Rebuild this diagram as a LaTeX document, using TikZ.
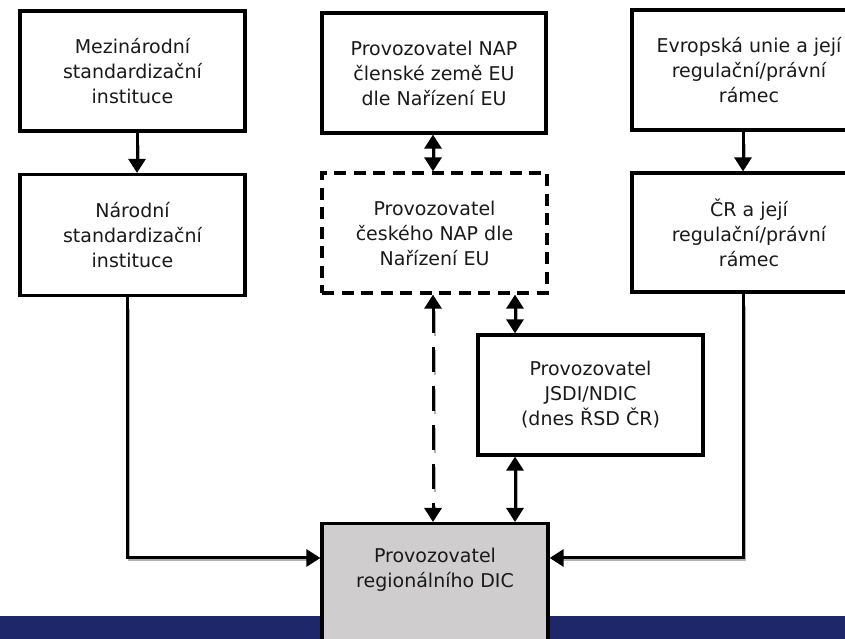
\documentclass[tikz,border=0pt]{standalone}
\usepackage{fontspec}
\setmainfont{DejaVu Sans}
\usetikzlibrary{arrows.meta}
\definecolor{barblue}{HTML}{1F276B}
\definecolor{boxgray}{HTML}{CFCDCE}
\definecolor{txt}{HTML}{1A1A1A}
\tikzset{
  x=1pt, y=1pt,
  box/.style={draw=black, line width=3.2pt, align=center, text=txt,
    font=\fontsize{19}{25}\selectfont, inner sep=0pt},
  dbox/.style={box, dash pattern=on 12pt off 7.5pt},
  tip/.tip={Triangle[width=17pt,length=14pt]},
  conn/.style={line width=3pt, draw=black,
    preaction={draw=gray!60, line width=2pt, -, shorten >=10pt, shorten <=10pt,
      transform canvas={shift={(2pt,-2pt)}}}},
  dconn/.style={line width=3pt, draw=black, dash pattern=on 25pt off 14pt,
    preaction={draw=gray!60, line width=2pt, -, dash pattern=on 25pt off 14pt,
      shorten >=14pt, shorten <=14pt,
      transform canvas={shift={(2pt,-2pt)}}}},
}
\begin{document}
\begin{tikzpicture}
\useasboundingbox (0,0) rectangle (845,639);
\clip (0,0) rectangle (845,639);
\fill[white] (0,0) rectangle (845,639);
\fill[barblue] (0,0) rectangle (845,23);

\node[box, minimum width=225pt, minimum height=120pt] (A) at (132.5,568)
  {Mezinárodní\\standardizační\\instituce};
\node[box, minimum width=225pt, minimum height=121pt] (B) at (132.5,404)
  {Národní\\standardizační\\instituce};
\node[box, minimum width=224pt, minimum height=120pt] (C) at (434,566)
  {Provozovatel NAP\\členské země EU\\dle Nařízení EU};
\node[dbox, minimum width=225pt, minimum height=120pt] (D) at (434.5,406)
  {Provozovatel\\českého NAP dle\\Nařízení EU};
\node[box, minimum width=234pt, minimum height=120pt] (E) at (749,569)
  {Evropská unie a její\\regulační/právní\\rámec};
\node[box, minimum width=234pt, minimum height=119pt] (F) at (749,406.5)
  {ČR a její\\regulační/právní\\rámec};
\node[box, minimum width=225pt, minimum height=120pt] (G) at (590.5,244)
  {Provozovatel\\JSDI/NDIC\\(dnes ŘSD ČR)};
\node[box, fill=boxgray, minimum width=226pt, minimum height=150pt, anchor=north] (H) at (435,117) {};
\node[align=center, text=txt, font=\fontsize{19}{25}\selectfont, inner sep=0pt] (Ht) at ([yshift=-48pt]H.north)
  {Provozovatel\\regionálního DIC};

\coordinate (lx) at (127,0);
\coordinate (ax) at (137,0);
\coordinate (rx) at (743,0);
\coordinate (mx) at (433,0);
\coordinate (gx) at (515,0);
\coordinate (ly) at (0,81);

\draw[conn, -tip] (A.south -| ax) -- (B.north -| ax);
\draw[conn, -tip] (E.south -| rx) -- (F.north -| rx);
\draw[conn, -tip] (B.south -| lx) |- (H.west |- ly);
\draw[conn, -tip] (F.south -| rx) |- (H.east |- ly);
\draw[conn, tip-tip] (C.south -| mx) -- (D.north -| mx);
\draw[dconn, tip-tip] (D.south -| mx) -- (H.north -| mx);
\draw[conn, tip-tip] (D.south -| gx) -- (G.north -| gx);
\draw[conn, tip-tip] (G.south -| gx) -- (H.north -| gx);
\end{tikzpicture}
\end{document}
